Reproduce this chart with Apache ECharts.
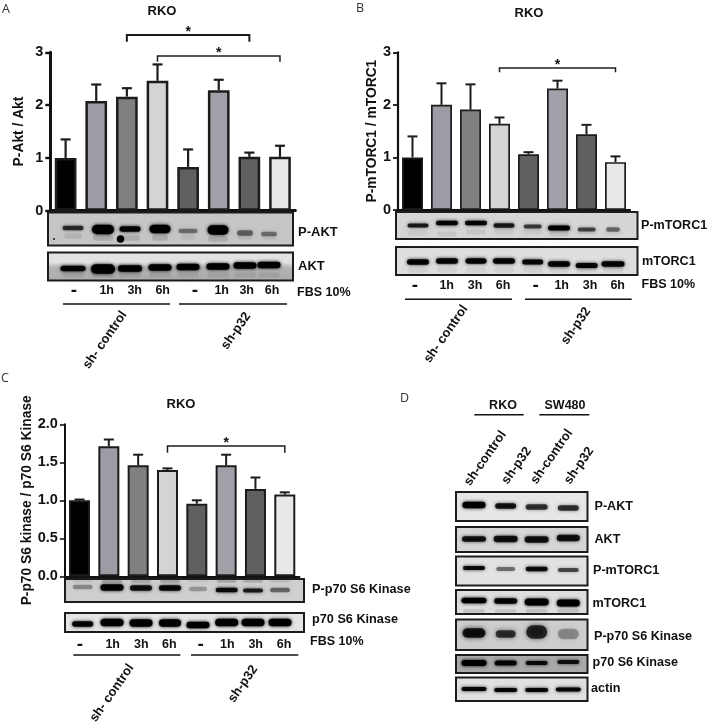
<!DOCTYPE html>
<html><head><meta charset="utf-8">
<style>html,body{margin:0;padding:0;background:#fff}#c{width:709px;height:724px}</style>
<script src="https://cdn.jsdelivr.net/npm/echarts@6/dist/echarts.min.js"></script>
</head><body><div id="c"></div>
<script>
const categories = ['ctrl -','ctrl 1h','ctrl 3h','ctrl 6h','p32 -','p32 1h','p32 3h','p32 6h'];
const barColors = ['#000000','#9c9ca4','#808082','#d4d4d4','#606060','#a0a0a8','#606060','#e8e8e8'];
const timeLabels = ['-','1h','3h','6h','-','1h','3h','6h'];

const aktValues = [1.0,2.08,2.16,2.46,0.83,2.28,1.02,1.02];
const aktErrTops = [1.35,2.39,2.32,2.77,1.16,2.48,1.10,1.23];
const mtorValues = [1.0,2.0,1.91,1.64,1.06,2.31,1.44,0.91];
const mtorErrTops = [1.40,2.41,2.39,1.76,1.10,2.46,1.62,1.02];
const s6kValues = [1.0,1.71,1.46,1.40,0.955,1.46,1.15,1.075];
const s6kErrTops = [1.01,1.80,1.60,1.42,1.0,1.60,1.30,1.105];

// bracket: from category, to category, bar value level, drop level
const aktBrackets = [[2,6,3.33,3.2,2],[3,7,2.93,2.82,1.5]];
const mtorBrackets = [[3,7,2.70,2.62,1.5]];
const s6kBrackets = [[3,7,1.715,1.625,1.5]];

// band darkness read from each blot
const aPAkt = [.7,1,.95,1,.4,1,.45,.4];
const aAkt = [.95,1,1,1,1,1,1,1];
const bPm = [.8,.95,.95,.8,.65,.95,.6,.45];
const bM = [.95,.95,.95,.95,.95,.95,.95,.95];
const cP = [.3,.95,.85,.9,.25,.9,.8,.45];
const cT = [.95,1,1,1,1,1,1,1];
const dPAkt = [1,.85,.7,.7];
const dAkt = [.85,.85,.85,.85];
const dPm = [.9,.45,.9,.6];
const dM = [1,.95,1,1];
const dPs6 = [.85,.7,.75,.3];
const dTs6 = [1,.95,.9,.85];
const dActin = [.95,.95,.95,.95];

const FF = '"Liberation Sans", Arial, sans-serif';
const graphics = [];
function txt(x,y,t,o){o=o||{};graphics.push({type:'text',x,y,rotation:o.rot||0,silent:true,z:20,style:{text:t,x:0,y:0,fill:o.fill||'#111',fontFamily:o.ff||FF,fontSize:o.size||13,fontWeight:o.w||'bold',textAlign:o.align||'left',textVerticalAlign:'middle'}});}
function line(x1,y,x2,w){graphics.push({type:'line',silent:true,z:20,shape:{x1,y1:y,x2,y2:y},style:{stroke:'#111',lineWidth:w||1.5}});}
function blot(x1,y1,x2,y2,bg,centers,layers,extras){
  graphics.push({type:'rect',silent:true,z:5,shape:{x:x1,y:y1,width:x2-x1,height:y2-y1},style:{fill:bg}});
  layers.forEach(l=>centers.forEach((c,i)=>{
    const op=l.op[i]*(l.k||1);const w=(Array.isArray(l.w)?l.w[i]:l.w)+2;const h=(Array.isArray(l.h)?l.h[i]:l.h)+1.5;
    const yy=Array.isArray(l.y)?l.y[i]:l.y;
    graphics.push({type:'rect',silent:true,z:6,shape:{x:c-w/2,y:yy-h/2,width:w,height:h,r:h/2},style:{fill:'rgba(0,0,0,'+op+')',shadowBlur:l.blur||3.5,shadowColor:'rgba(0,0,0,'+op+')'}});
  }));
  (extras||[]).forEach(e=>graphics.push({type:'circle',silent:true,z:6,shape:{cx:e[0],cy:e[1],r:e[2]},style:{fill:'#000'}}));
  graphics.push({type:'rect',silent:true,z:7,shape:{x:x1,y:y1,width:x2-x1,height:y2-y1},style:{fill:'none',stroke:'#1c1c1c',lineWidth:2}});
}
const vg=(a,b,c)=>({type:'linear',x:0,y:0,x2:0,y2:1,colorStops:[{offset:0,color:a},{offset:.35,color:a},{offset:.55,color:b},{offset:1,color:c}]});
function rotLabel(x,y,t){txt(x,y,t,{align:'center',rot:Math.PI*55/180,size:13});}
function timeRow(xs,y){xs.forEach((x,i)=>txt(x,y,timeLabels[i],{align:'center',size:i%4?12.5:19}));}

// Panel letters
[[2,9,'A'],[356,8,'B'],[1,378,'C'],[400,398,'D']].forEach(p=>txt(p[0],p[1],p[2],{ff:'"Open Sans", sans-serif',w:'normal',size:12.5,fill:'#333'}));

// Panel A blots and labels
const aX=[73,103,130,160,188,218,245,269];
blot(48,212.5,293,245.5,'#c6c6c6',aX,[
 {y:[228,229.5,229,229,231,230,233,234],h:[3,8,4,7,3,8,4,3],w:[19,20,19,19,17,19,14,14],op:aPAkt},
 {y:[236,238,238,238,237,239,237,237],h:4,w:[16,18,18,14,12,18,12,12],op:aPAkt,k:.12,blur:6}],[[120.5,239,3.8],[54,239,.9]]);
blot(48,252.5,293,280.5,vg('#e2e2e2','#b4b4b4','#acacac'),aX,[
 {y:[268.5,269,268.5,267.5,267,266.5,265.5,265],h:[4,8,5,5,5,5,5,5],w:[23,22,22,21,21,21,21,21],op:aAkt},
 {y:275,h:4,w:20,op:aAkt,k:.07,blur:6}]);
txt(298,232,'P-AKT');txt(298,266,'AKT');
timeRow([74,106.7,134.7,162.7,195,221.7,246.7,272],291);
txt(297,292.5,'FBS 10%',{size:12.5});
line(63,304,170);line(179,304,287);
rotLabel(105,340,'sh- control');rotLabel(236,331,'sh-p32');

// Panel B blots and labels
const bX=[418,447,476,504,532.7,559,586.7,613];
blot(396,212,637.5,239,'#d6d6d6',bX,[
 {y:[225.5,223,223,225.5,226.5,228,229.5,229.5],h:[2.5,3,3,3,2.5,3.5,2.5,3],w:[19,20,20,19,16,20,16,12],op:bPm},
 {y:[233,234,232,232,232,234,232,233],h:4,w:18,op:bPm,k:.07,blur:6}]);
blot(396,247,637.5,275,'#dedede',bX,[
 {y:[262,261,261,261,262,264,265.5,264],h:[4,4,4,4,3.5,4,3.5,4],w:[20,20,19,20,19,20,20,21],op:bM},
 {y:270,h:4,w:18,op:bM,k:.06,blur:6}]);
txt(641,226,'P-mTORC1',{size:12.6});txt(642,262,'mTORC1',{size:12.6});
timeRow([415,446.7,475,503,535.7,561.7,590,617.7],286);
txt(641.5,285,'FBS 10%',{size:12.5});
line(405,299.3,512);line(525,299.3,631.7);
rotLabel(446,334,'sh- control');rotLabel(576,326,'sh-p32');

// Panel C blots and labels
const cX=[82.7,112,141,170,198,226.7,253,280];
blot(65,579,304,602,'#cfcfcf',cX,[
 {y:[587,587.5,588,588,589,590,590.5,590],h:[3,5,4,4,3,3,2.5,3],w:[18,21,20,20,16,20,18,18],op:cP},
 {y:581,h:2,w:18,op:cP,k:.2,blur:4}]);
blot(65,613,304,632,'#e4e4e4',cX,[
 {y:[624,622.5,623,623,625,622.5,622.5,622.5],h:[4,6,6,6,5,6,6,6],w:[19,21,21,20,21,21,21,21],op:cT}]);
txt(312,589,'P-p70 S6 Kinase',{size:12.7});txt(312,619.5,'p70 S6 Kinase',{size:12.7});
timeRow([80,112.7,141.3,169.3,200.7,227.3,255.7,284],644.5);
txt(310,642,'FBS 10%',{size:12.5});
line(73.3,655,180.3);line(191,655,298.3);
rotLabel(112,693,'sh- control');rotLabel(243,684,'sh-p32');

// Panel D
txt(503,406,'RKO',{align:'center',size:12.5});txt(565,406,'SW480',{align:'center',size:12.5});
line(474.3,414.7,523.7);line(539.3,414.7,589.3);
rotLabel(485.3,458.3,'sh-control');rotLabel(516.7,465.7,'sh-p32');rotLabel(551.7,456.7,'sh-control');rotLabel(579,465.7,'sh-p32');
const dX=[474,505.7,536.7,568.3];
blot(456,492,587.5,521,'#e6e6e6',dX,[{y:[505,506,507,508],h:[5,4,4,4],w:[21,19,20,19],op:dPAkt}]);
blot(456,527,587.5,552,'#d6d6d6',dX,[{y:[539,539,539.5,538],h:[4,5,5,5],w:[22,22,22,21],op:dAkt}]);
blot(456,556.5,587.5,585.5,'#e2e2e2',dX,[{y:[568,569,569,570],h:[2.5,2.5,3,2.5],w:[20,17,20,19],op:dPm}]);
blot(456,590,587.5,614,'#dedede',dX,[{y:[600.5,601,602,603],h:[4,4,5.5,5.5],w:[23,21,22,21],op:dM},{y:[611,611,611,611],h:2,w:20,op:dM,k:.12,blur:4}]);
blot(456,619.5,587.5,650,'#cdcdcd',dX,[{y:[633,634,632,634],h:[8,6,12,9],w:[21,18,19,19],op:dPs6,blur:5}]);
blot(456,655,587.5,673,'#a9a9a9',dX,[{y:[663,663,663,662],h:[4.5,3.5,2.5,2.5],w:[23,20,20,20],op:dTs6}]);
blot(456,677.5,587.5,701,'#e0e0e0',dX,[{y:[689,690,690,689.5],h:[2.5,2.5,2.5,2.5],w:[23,21,21,23],op:dActin}]);
[[594.5,506.5,'P-AKT'],[594.5,540,'AKT'],[593,571,'P-mTORC1'],[592.5,603.5,'mTORC1'],[594,636.5,'P-p70 S6 Kinase'],[592.5,662.5,'p70 S6 Kinase'],[591,689,'actin']].forEach(p=>txt(p[0],p[1],p[2],{size:12.6}));

// Charts
const panels = [
 {grid:{left:50.3,top:52.3,width:245,height:158.4},max:3,int:1,name:'P-Akt / Akt',gap:24,values:aktValues,tops:aktErrTops,brackets:aktBrackets,bw:21.7,bb:2.5,axis:3,err:2.2,dec:0},
 {grid:{left:398,top:52.3,width:232,height:157.7},max:3,int:1,name:'P-mTORC1 / mTORC1',gap:19,values:mtorValues,tops:mtorErrTops,brackets:mtorBrackets,bw:21,bb:1.7,axis:2.2,err:2,dec:0},
 {grid:{left:64.85,top:424.3,width:234.6,height:152},max:2,int:.5,name:'P-p70 S6 kinase / p70 S6 Kinase',gap:31,values:s6kValues,tops:s6kErrTops,brackets:s6kBrackets,bw:21,bb:2,axis:2,err:2,dec:1}
];
const titles=[[162,4.5],[529,7],[181,398]].map(p=>({text:'RKO',left:p[0],top:p[1],padding:0,textAlign:'center',textStyle:{fontFamily:FF,fontSize:13,fontWeight:'bold',color:'#111'}}));
const grid=[],xAxis=[],yAxis=[],series=[];
panels.forEach((p,i)=>{
 grid.push(p.grid);
 xAxis.push({gridIndex:i,type:'category',data:categories,axisTick:{show:false},axisLabel:{show:false},axisLine:{lineStyle:{color:'#111',width:p.axis}}});
 yAxis.push({gridIndex:i,type:'value',min:0,max:p.max,interval:p.int,splitLine:{show:false},name:p.name,nameLocation:'middle',nameGap:p.gap,nameRotate:90,
  nameTextStyle:{fontFamily:FF,fontSize:13.8,fontWeight:'bold',color:'#111'},
  axisLine:{show:true,lineStyle:{color:'#111',width:p.axis}},axisTick:{show:true,length:5,lineStyle:{color:'#111',width:p.axis*.8}},
  axisLabel:{margin:7,fontFamily:FF,fontSize:14.5,fontWeight:'bold',color:'#111',formatter:v=>v.toFixed(p.dec)}});
 series.push({type:'bar',xAxisIndex:i,yAxisIndex:i,barWidth:p.bw,z:3,
  data:p.values.map((v,k)=>({value:v,itemStyle:{color:barColors[k],borderColor:'#1c1c1c',borderWidth:p.bb}}))});
 series.push({type:'custom',xAxisIndex:i,yAxisIndex:i,z:2,encode:{x:0,y:[1,2]},
  data:p.values.map((v,k)=>[k,v,p.tops[k]]),
  renderItem:(params,api)=>{
   const a=api.coord([api.value(0),api.value(1)]),b=api.coord([api.value(0),api.value(2)]);
   const s={stroke:'#1c1c1c',lineWidth:p.err};
   return {type:'group',children:[
    {type:'line',shape:{x1:a[0],y1:a[1],x2:b[0],y2:b[1]},style:s},
    {type:'line',shape:{x1:b[0]-5,y1:b[1],x2:b[0]+5,y2:b[1]},style:s}]};
  }});
 series.push({type:'custom',xAxisIndex:i,yAxisIndex:i,z:4,encode:{x:[0,1],y:[2,3]},clip:false,
  data:p.brackets,
  renderItem:(params,api)=>{
   const a=api.coord([api.value(0),api.value(2)]),b=api.coord([api.value(1),api.value(2)]);
   const d=api.coord([api.value(0),api.value(3)]);
   return {type:'group',children:[
    {type:'polyline',shape:{points:[[a[0],d[1]],[a[0],a[1]],[b[0],a[1]],[b[0],d[1]]]},style:{fill:'none',stroke:'#1c1c1c',lineWidth:api.value(4)}},
    {type:'text',style:{text:'*',x:(a[0]+b[0])/2,y:a[1]-3,fill:'#111',fontFamily:FF,fontSize:14,fontWeight:'bold',textAlign:'center',textVerticalAlign:'middle'}}]};
  }});
});
const chart=echarts.init(document.getElementById('c'),null,{renderer:'canvas'});
chart.setOption({animation:false,backgroundColor:'#fff',title:titles,grid,xAxis,yAxis,series,graphic:{elements:graphics}});
</script></body></html>
